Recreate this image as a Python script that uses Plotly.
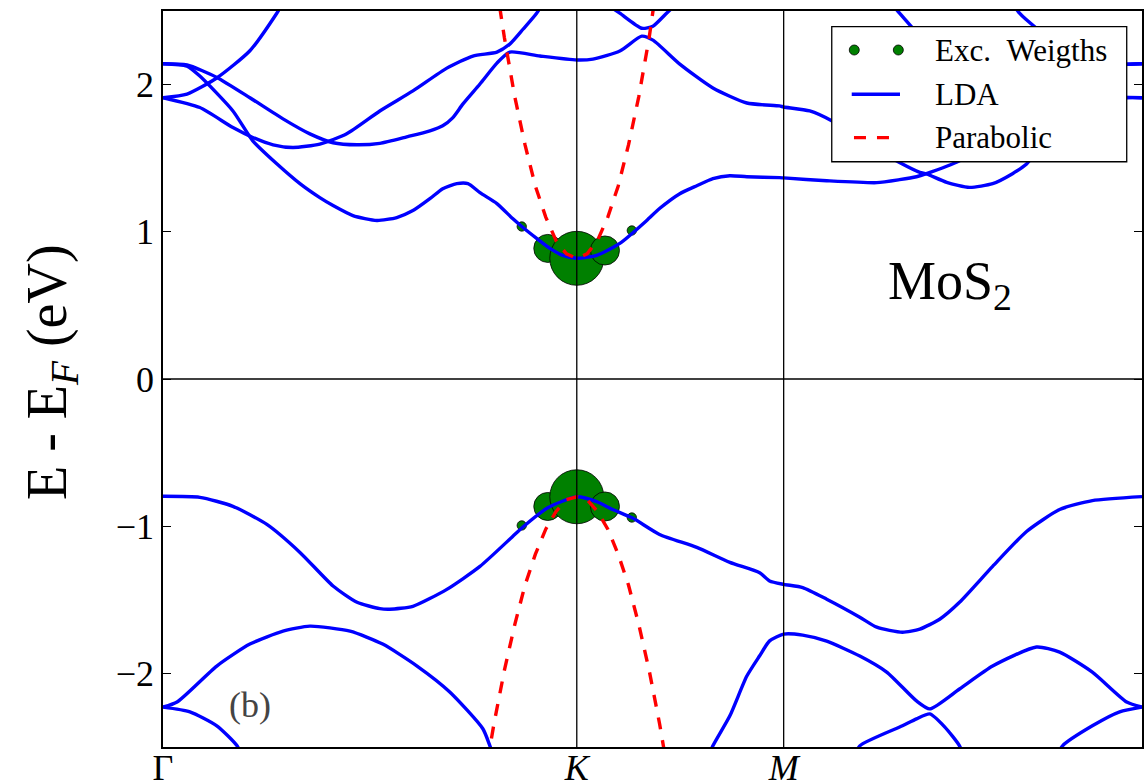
import plotly.graph_objects as go

# ---- path through the Brillouin zone (|ΓK| = 1) ----
sym_k = [0.0, 1.0, 1.5, 2.366]
sym_labels = ["Γ", "<i>K</i>", "<i>M</i>", "Γ"]
y_ticks = [-2, -1, 0, 1, 2]

# ---- LDA conduction bands (k, E - E_F in eV) ----
c1_k = [0.0, 0.058, 0.089, 0.169, 0.217, 0.275, 0.331, 0.379, 0.411, 0.459, 0.517, 0.565,
        0.604, 0.645, 0.676, 0.710, 0.737, 0.766, 0.807, 0.845, 0.870, 0.903, 0.935, 0.966,
        1.0, 1.048, 1.104, 1.169, 1.200, 1.249, 1.290, 1.329, 1.370, 1.411, 1.490, 1.5,
        1.604, 1.725, 1.780, 1.821, 1.845, 1.925, 2.05, 2.2, 2.33, 2.366]
c1_e = [2.142, 2.126, 2.058, 1.821, 1.618, 1.462, 1.327, 1.232, 1.178, 1.110, 1.077, 1.097,
        1.144, 1.225, 1.293, 1.327, 1.327, 1.266, 1.192, 1.090, 1.029, 0.955, 0.887, 0.840,
        0.82, 0.840, 0.921, 1.077, 1.158, 1.259, 1.313, 1.361, 1.381, 1.374, 1.368, 1.366,
        1.347, 1.334, 1.354, 1.374, 1.395, 1.483, 1.70, 1.87, 1.911, 1.911]

c2_k = [0.0, 0.058, 0.130, 0.210, 0.290, 0.355, 0.411, 0.469, 0.524, 0.589, 0.645, 0.676,
        0.700, 0.725, 0.766, 0.807, 0.838, 0.911, 1.0, 1.039, 1.104, 1.157, 1.184, 1.249,
        1.329, 1.411, 1.490, 1.5, 1.563, 1.616, 1.70, 1.780, 1.829, 1.845, 1.894, 1.949,
        2.005, 2.053, 2.087, 2.2, 2.3, 2.33, 2.366]
c2_e = [2.142, 2.133, 2.049, 1.911, 1.767, 1.665, 1.605, 1.591, 1.601, 1.645, 1.686, 1.720,
        1.774, 1.869, 2.004, 2.146, 2.221, 2.194, 2.167, 2.173, 2.228, 2.329, 2.302, 2.139,
        1.977, 1.875, 1.855, 1.848, 1.821, 1.754, 1.60, 1.471, 1.404, 1.393, 1.336, 1.302,
        1.327, 1.395, 1.460, 1.90, 2.12, 2.139, 2.142]

c3_k = [0.0, 0.089, 0.169, 0.217, 0.266, 0.314, 0.379, 0.444, 0.524, 0.604, 0.686, 0.749,
        0.807, 0.838, 0.870, 0.903, 0.94]
c3_e = [1.911, 1.844, 1.708, 1.641, 1.591, 1.573, 1.596, 1.666, 1.821, 1.957, 2.112, 2.194,
        2.221, 2.275, 2.376, 2.485, 2.65]

c4_k = [1.06, 1.104, 1.157, 1.184, 1.217, 1.26]
c4_e = [2.57, 2.485, 2.383, 2.397, 2.485, 2.60]

c5_k = [0.0, 0.058, 0.130, 0.210, 0.275, 0.31]
c5_e = [1.911, 1.936, 2.045, 2.23, 2.485, 2.65]

c6_k = [1.74, 1.780, 1.812, 1.87, 2.0, 2.2, 2.366]
c6_e = [2.62, 2.485, 2.383, 2.20, 2.02, 1.93, 1.911]

c7_k = [2.03, 2.070, 2.111, 2.2, 2.3, 2.366]
c7_e = [2.65, 2.485, 2.383, 2.20, 2.14, 2.142]

# ---- LDA valence bands ----
v1_k = [0.0, 0.089, 0.169, 0.251, 0.331, 0.411, 0.469, 0.524, 0.548, 0.604, 0.686, 0.766,
        0.845, 0.870, 0.930, 1.0, 1.048, 1.087, 1.135, 1.200, 1.290, 1.370, 1.442, 1.466,
        1.5, 1.546, 1.604, 1.684, 1.725, 1.787, 1.829, 1.877, 1.925, 2.005, 2.087, 2.167,
        2.246, 2.366]
v1_e = [-0.797, -0.804, -0.865, -0.988, -1.178, -1.406, -1.517, -1.560, -1.564, -1.544,
        -1.429, -1.273, -1.070, -1.005, -0.875, -0.80, -0.833, -0.887, -0.945, -1.056,
        -1.144, -1.246, -1.316, -1.372, -1.395, -1.417, -1.496, -1.618, -1.686, -1.720,
        -1.699, -1.632, -1.517, -1.273, -1.036, -0.887, -0.826, -0.799]

v2_k = [0.0, 0.034, 0.130, 0.210, 0.290, 0.355, 0.452, 0.531, 0.614, 0.693, 0.773, 0.790, 0.81]
v2_e = [-2.229, -2.194, -1.950, -1.801, -1.713, -1.679, -1.713, -1.801, -1.950, -2.126,
        -2.376, -2.492, -2.65]

v3_k = [0.0, 0.065, 0.130, 0.179, 0.2]
v3_e = [-2.229, -2.261, -2.356, -2.492, -2.62]

v4_k = [1.31, 1.329, 1.370, 1.411, 1.442, 1.466, 1.5, 1.546, 1.604, 1.684, 1.749, 1.821,
        1.853, 1.925, 2.005, 2.111, 2.167, 2.246, 2.329, 2.366]
v4_e = [-2.62, -2.492, -2.288, -2.018, -1.880, -1.779, -1.733, -1.740, -1.781, -1.882,
        -1.991, -2.187, -2.241, -2.106, -1.950, -1.821, -1.855, -1.991, -2.194, -2.229]

v5_k = [1.67, 1.684, 1.787, 1.821, 1.853, 1.889, 1.925, 1.94]
v5_e = [-2.58, -2.492, -2.356, -2.309, -2.275, -2.363, -2.492, -2.60]

v6_k = [2.15, 2.174, 2.246, 2.312, 2.366]
v6_e = [-2.62, -2.492, -2.356, -2.261, -2.229]

# ---- parabolic (effective-mass) fits around K ----
par_k = [0.775, 0.8, 0.825, 0.85, 0.875, 0.9, 0.925, 0.95, 0.975, 1.0,
         1.025, 1.05, 1.075, 1.1, 1.125, 1.15, 1.175, 1.2, 1.225]
par_cb = [3.30, 2.78, 2.32, 1.92, 1.59, 1.31, 1.10, 0.94, 0.85, 0.82,
          0.85, 0.94, 1.10, 1.31, 1.59, 1.92, 2.32, 2.78, 3.30]
par_vb = [-2.75, -2.34, -1.98, -1.67, -1.40, -1.19, -1.02, -0.90, -0.82, -0.80,
          -0.82, -0.90, -1.02, -1.19, -1.40, -1.67, -1.98, -2.34, -2.75]

# ---- excitonic weights on the band edges ----
exc_k = [0.867, 0.930, 1.0, 1.068, 1.133]
exc_cb = [1.036, 0.887, 0.82, 0.873, 1.009]
exc_vb = [-0.995, -0.866, -0.80, -0.866, -0.941]
exc_w = [0.03, 0.27, 1.0, 0.29, 0.03]

FONT = "Liberation Serif"
BLUE = "#0000ff"
RED = "#ff0000"
GREEN = "#008000"
LW = 3.4
DASH = "12px,11px"

fig = go.Figure()

# exciton weights: marker area proportional to the weight
sizes = [54 * w ** 0.5 for w in exc_w]
for e in (exc_cb, exc_vb):
    fig.add_trace(go.Scatter(
        x=exc_k, y=e, mode="markers",
        marker=dict(size=sizes, color=GREEN, opacity=1,
                    line=dict(color="black", width=0.8)),
        showlegend=False, hoverinfo="skip"))

bands = [(c1_k, c1_e), (c2_k, c2_e), (c3_k, c3_e), (c4_k, c4_e), (c5_k, c5_e),
         (c6_k, c6_e), (c7_k, c7_e),
         (v1_k, v1_e), (v2_k, v2_e), (v3_k, v3_e), (v4_k, v4_e), (v5_k, v5_e), (v6_k, v6_e)]
for k, e in bands:
    fig.add_trace(go.Scatter(x=k, y=e, mode="lines",
                             line=dict(color=BLUE, width=LW, shape="spline", smoothing=0.6),
                             showlegend=False, hoverinfo="skip"))

for e in (par_cb, par_vb):
    fig.add_trace(go.Scatter(x=par_k, y=e, mode="lines",
                             line=dict(color=RED, width=LW, dash=DASH),
                             showlegend=False, hoverinfo="skip"))

shapes = []
# high-symmetry verticals and the Fermi level
for k in sym_k[1:3]:
    shapes.append(dict(type="line", xref="x", yref="paper", x0=k, x1=k, y0=0, y1=1,
                       line=dict(color="black", width=1.3), layer="above"))
shapes.append(dict(type="line", xref="paper", yref="y", x0=0, x1=1, y0=0, y1=0,
                   line=dict(color="black", width=1.3), layer="above"))

# legend box
lg_x0, lg_x1, lg_y0, lg_y1 = 0.6831, 0.9844, 0.7952, 0.9787
row_y = [0.947, 0.8868, 0.8279]
shapes.append(dict(type="rect", xref="paper", yref="paper", x0=lg_x0, x1=lg_x1, y0=lg_y0, y1=lg_y1,
                   fillcolor="white", line=dict(color="black", width=1.3), layer="above"))
for xc in (0.7061, 0.7511):
    shapes.append(dict(type="circle", xref="paper", yref="paper", xsizemode="pixel", ysizemode="pixel",
                       xanchor=xc, yanchor=row_y[0], x0=-5, x1=5, y0=-5, y1=5,
                       fillcolor=GREEN, line=dict(color="black", width=0.8), layer="above"))
shapes.append(dict(type="line", xref="paper", yref="paper", x0=0.7035, x1=0.7528,
                   y0=row_y[1], y1=row_y[1], line=dict(color=BLUE, width=LW), layer="above"))
shapes.append(dict(type="line", xref="paper", yref="paper", x0=0.7058, x1=0.7416,
                   y0=row_y[2], y1=row_y[2], line=dict(color=RED, width=LW, dash=DASH), layer="above"))

annotations = []
for txt, yy in zip(["Exc.\u00a0\u00a0Weigths", "LDA", "Parabolic"], row_y):
    annotations.append(dict(text=txt, xref="paper", yref="paper", x=0.7865, y=yy,
                            xanchor="left", yanchor="middle", showarrow=False,
                            font=dict(family=FONT, size=31, color="black")))
annotations.append(dict(text="MoS<sub>2</sub>", xref="paper", yref="paper", x=0.8039, y=0.629,
                        xanchor="center", yanchor="middle", showarrow=False,
                        font=dict(family=FONT, size=54, color="black")))
annotations.append(dict(text="(b)", xref="paper", yref="paper", x=0.0889, y=0.057,
                        xanchor="center", yanchor="middle", showarrow=False,
                        font=dict(family=FONT, size=36, color="#444444")))
annotations.append(dict(text="E - E<sub><i>F</i></sub> (eV)", xref="paper", yref="paper",
                        x=-0.115, y=0.51, xanchor="center", yanchor="middle", textangle=-90,
                        showarrow=False, font=dict(family=FONT, size=56, color="black")))

fig.update_layout(
    width=1146, height=782,
    margin=dict(l=163, r=4, t=11, b=35, autoexpand=False),
    paper_bgcolor="white", plot_bgcolor="white",
    showlegend=False,
    shapes=shapes, annotations=annotations,
    font=dict(family=FONT, color="black"),
)
fig.update_xaxes(range=[sym_k[0], sym_k[-1]], tickvals=sym_k, ticktext=sym_labels,
                 automargin=False, ticklabelstandoff=-12,
                 showgrid=False, zeroline=False, showline=True, linecolor="black", linewidth=1.5,
                 mirror=True, ticks="", tickfont=dict(family=FONT, size=36, color="black"))
fig.update_yaxes(range=[-2.5, 2.5], tickvals=y_ticks, automargin=False,
                 showgrid=False, zeroline=False, showline=True, linecolor="black", linewidth=1.5,
                 mirror="ticks", ticks="inside", ticklen=8, tickwidth=1.2, tickcolor="black",
                 tickfont=dict(family=FONT, size=36, color="black"))

fig.write_html("out.html")
